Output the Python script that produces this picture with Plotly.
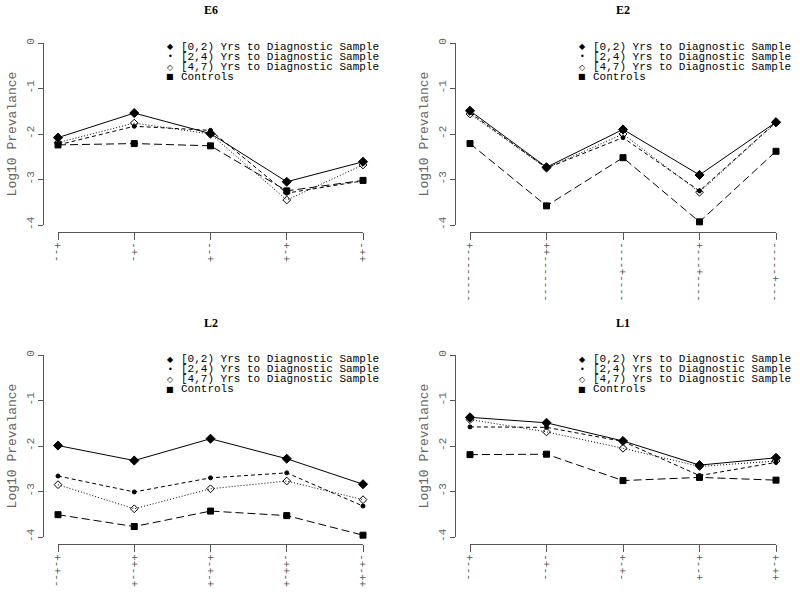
import plotly.graph_objects as go

# ---------------- data ----------------
groups = ["[0,2) Yrs to Diagnostic Sample", "[2,4) Yrs to Diagnostic Sample",
          "[4,7) Yrs to Diagnostic Sample", "Controls"]
panels = ["E6", "E2", "L2", "L1"]
x_pos = [1, 2, 3, 4, 5]

e6_0_2 = [-2.08, -1.54, -1.99, -3.05, -2.61]
e6_2_4 = [-2.24, -1.83, -1.92, -3.30, -3.03]
e6_4_7 = [-2.19, -1.76, -2.00, -3.45, -2.68]
e6_ctrl = [-2.24, -2.21, -2.26, -3.25, -3.02]

e2_0_2 = [-1.49, -2.73, -1.90, -2.90, -1.74]
e2_2_4 = [-1.53, -2.75, -2.08, -3.25, -1.74]
e2_4_7 = [-1.56, -2.75, -2.00, -3.28, -1.75]
e2_ctrl = [-2.21, -3.58, -2.52, -3.93, -2.38]

l2_0_2 = [-1.99, -2.32, -1.84, -2.28, -2.84]
l2_2_4 = [-2.66, -3.01, -2.70, -2.59, -3.32]
l2_4_7 = [-2.85, -3.38, -2.94, -2.77, -3.18]
l2_ctrl = [-3.51, -3.77, -3.43, -3.53, -3.96]

l1_0_2 = [-1.37, -1.49, -1.89, -2.42, -2.26]
l1_2_4 = [-1.58, -1.59, -1.90, -2.65, -2.36]
l1_4_7 = [-1.42, -1.69, -2.05, -2.45, -2.33]
l1_ctrl = [-2.19, -2.18, -2.76, -2.69, -2.75]

e6_ticks = ["+--", "-+-", "--+", "+-+", "-++"]
e2_ticks = ["+--------", "++-------", "----+----", "+---+----", "-----+---"]
l2_ticks = ["+-+--", "++--+", "+-+-+", "-++-+", "-+-++"]
l1_ticks = ["+---", "-+--", "+-+-", "+--+", "+-++"]

y_tickvals = [0, -1, -2, -3, -4]
y_ticktext = ["0", "-1", "-2", "-3", "-4"]
y_title = "Log10 Prevalance"

panel_series = {
    "E6": [e6_0_2, e6_2_4, e6_4_7, e6_ctrl],
    "E2": [e2_0_2, e2_2_4, e2_4_7, e2_ctrl],
    "L2": [l2_0_2, l2_2_4, l2_4_7, l2_ctrl],
    "L1": [l1_0_2, l1_2_4, l1_4_7, l1_ctrl],
}
panel_ticks = {"E6": e6_ticks, "E2": e2_ticks, "L2": l2_ticks, "L1": l1_ticks}

# ---------------- styling / layout ----------------
W, H = 800, 595
def px(x):
    return x / W
def py(y):
    return 1 - y / H

styles = [
    dict(symbol="diamond", size=7, dash="solid"),
    dict(symbol="circle", size=4, dash="4px,3px"),
    dict(symbol="diamond-open", size=6, dash="1px,2px"),
    dict(symbol="square", size=6, dash="8px,4px"),
]
legend_glyphs = ["\u25c6", "\u2022", "\u25c7", "\u25a0"]

# pixel geometry per panel (reference page pixels)
geom = {
    "E6": dict(xl=58, xr=363, yt=43, yb=225, ax=43, ay=232, title_y=10),
    "E2": dict(xl=470, xr=776, yt=43, yb=225, ax=455, ay=232, title_y=10),
    "L2": dict(xl=58, xr=363, yt=355, yb=537, ax=43, ay=544, title_y=323),
    "L1": dict(xl=470, xr=776, yt=355, yb=537, ax=455, ay=544, title_y=323),
}

AX_COL = "#555555"
fig = go.Figure()
layout = dict(
    width=W, height=H, margin=dict(l=0, r=0, t=0, b=0, pad=0),
    paper_bgcolor="white", plot_bgcolor="white", showlegend=False,
    font=dict(family="Liberation Mono", color="black"),
)
annotations = []

for i, name in enumerate(panels):
    g = geom[name]
    sfx = "" if i == 0 else str(i + 1)
    xa, ya = "x" + sfx, "y" + sfx
    for j, vals in enumerate(panel_series[name]):
        st = styles[j]
        fig.add_trace(go.Scatter(
            x=x_pos, y=vals, mode="lines+markers", name=groups[j],
            xaxis=xa, yaxis=ya, cliponaxis=False,
            line=dict(color="black", width=1, dash=st["dash"]),
            marker=dict(symbol=st["symbol"], size=st["size"], color="black",
                        line=dict(color="black", width=1)),
        ))
    layout["xaxis" + sfx] = dict(
        domain=[px(g["xl"]), px(g["xr"])], anchor="free", position=py(g["ay"]),
        range=[1, 5], showgrid=False, zeroline=False, showline=True,
        linecolor=AX_COL, linewidth=1, ticks="outside", ticklen=7,
        tickcolor=AX_COL, tickwidth=1, tickvals=x_pos, ticktext=panel_ticks[name],
        tickangle=90, tickfont=dict(family="Liberation Mono", size=11, color="#555555"),
        automargin=False, fixedrange=True,
    )
    layout["yaxis" + sfx] = dict(
        domain=[py(g["yb"]), py(g["yt"])], anchor="free", position=px(g["ax"]),
        range=[-4, 0], showgrid=False, zeroline=False, showline=True,
        linecolor=AX_COL, linewidth=1, ticks="outside", ticklen=5,
        tickcolor=AX_COL, tickwidth=1, tickvals=y_tickvals, ticktext=y_ticktext,
        tickangle=-90, tickfont=dict(family="Liberation Mono", size=11, color="#666666"),
        title=dict(text=y_title, font=dict(family="Liberation Mono", size=13, color="#666666"),
                   standoff=4),
        automargin=False, fixedrange=True,
    )
    # panel title
    annotations.append(dict(
        text="<b>" + name + "</b>", xref="paper", yref="paper",
        x=px((g["xl"] + g["xr"]) / 2), y=py(g["title_y"]), xanchor="center", yanchor="middle",
        showarrow=False, font=dict(family="Liberation Serif", size=12, color="black"),
    ))
    # legend
    sym_x = g["xl"] + 112
    txt_x = g["xl"] + 121
    for j in range(4):
        row_y = g["yt"] + 4 + 10 * j
        annotations.append(dict(
            text=legend_glyphs[j], xref="paper", yref="paper",
            x=px(sym_x), y=py(row_y), xanchor="center", yanchor="middle",
            showarrow=False, font=dict(family="DejaVu Sans", size=8, color="black"),
        ))
        annotations.append(dict(
            text=groups[j], xref="paper", yref="paper",
            x=px(txt_x), y=py(row_y), xanchor="left", yanchor="middle",
            showarrow=False, font=dict(family="Liberation Mono", size=11, color="black"),
        ))

layout["annotations"] = annotations
fig.update_layout(**layout)
fig.write_html("out.html", config={"displayModeBar": False},
               post_script="document.body.style.margin='0px';")
